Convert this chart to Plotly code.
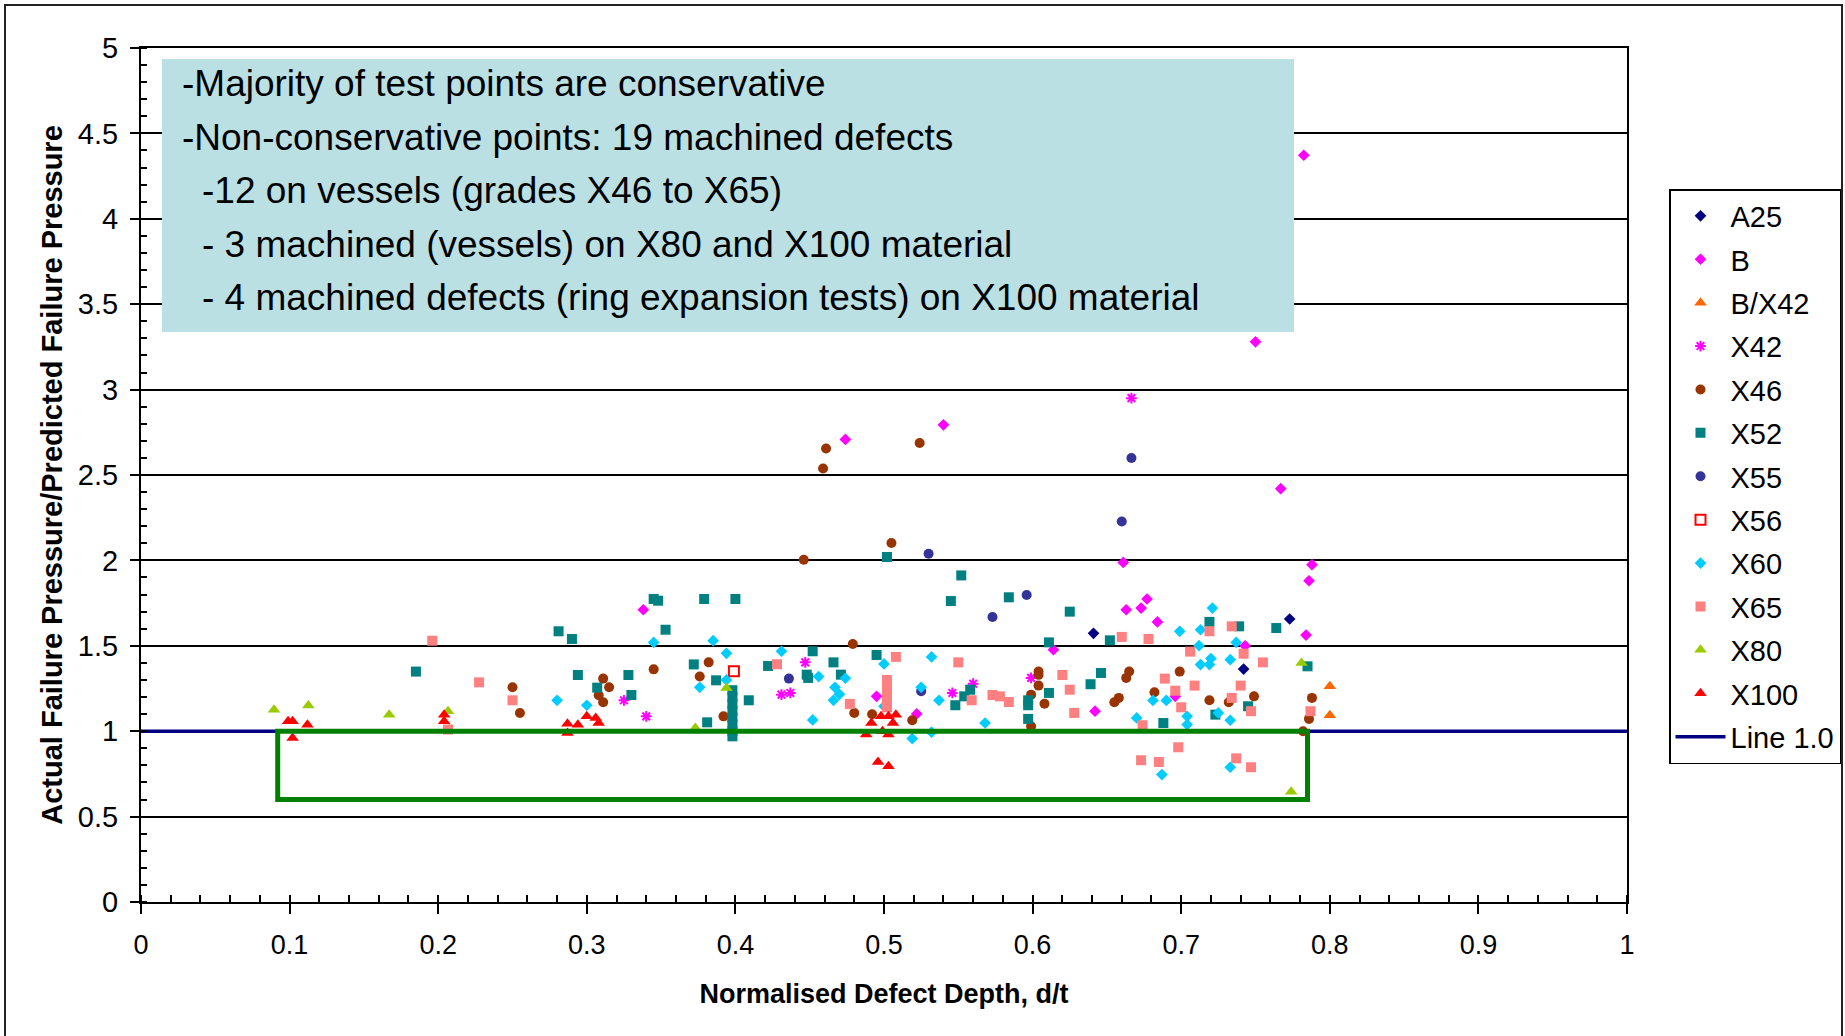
import plotly.graph_objects as go

# ---- Test data: normalised defect depth (d/t) vs. actual/predicted failure pressure ----
a25_x = [0.641, 0.773, 0.742]
a25_y = [1.573, 1.657, 1.364]

b_x = [0.7825, 0.750, 0.540, 0.474, 0.767, 0.661, 0.788, 0.786, 0.677, 0.673,
       0.663, 0.684, 0.784, 0.743, 0.614, 0.338, 0.495, 0.522, 0.642, 0.696]
b_y = [4.372, 3.280, 2.794, 2.708, 2.420, 1.988, 1.975, 1.881, 1.774, 1.721,
       1.711, 1.640, 1.563, 1.500, 1.477, 1.711, 1.204, 1.101, 1.117, 1.204]

bx42_x = [0.800, 0.800]
bx42_y = [1.263, 1.093]

x42_x = [0.6665, 0.447, 0.431, 0.437, 0.325, 0.340, 0.546, 0.560, 0.599]
x42_y = [2.950, 1.403, 1.214, 1.224, 1.181, 1.087, 1.224, 1.278, 1.312]

x46_x = [0.461, 0.459, 0.524, 0.505, 0.446, 0.479, 0.382, 0.376, 0.345, 0.311,
         0.315, 0.308, 0.311, 0.392, 0.250, 0.255, 0.480, 0.492, 0.519, 0.604,
         0.604, 0.604, 0.599, 0.608, 0.599, 0.665, 0.663, 0.699, 0.682, 0.658,
         0.655, 0.719, 0.732, 0.749, 0.788, 0.786, 0.782]
x46_y = [2.655, 2.538, 2.687, 2.102, 2.004, 1.511, 1.403, 1.320, 1.362, 1.308,
         1.257, 1.210, 1.169, 1.087, 1.257, 1.107, 1.107, 1.099, 1.064, 1.350,
         1.330, 1.267, 1.214, 1.161, 1.029, 1.350, 1.312, 1.349, 1.228, 1.195,
         1.169, 1.181, 1.169, 1.204, 1.195, 1.072, 1.000]

x52_x = [0.502, 0.552, 0.545, 0.584, 0.625, 0.611, 0.345, 0.348, 0.379, 0.400,
         0.281, 0.290, 0.353, 0.185, 0.452, 0.372, 0.422, 0.294, 0.307, 0.328,
         0.330, 0.387, 0.448, 0.449, 0.409, 0.381,
         0.398, 0.398, 0.398, 0.398, 0.398, 0.398, 0.398, 0.398,
         0.466, 0.495, 0.471, 0.558, 0.554, 0.548, 0.611, 0.597, 0.597, 0.597,
         0.639, 0.646, 0.764, 0.739, 0.719, 0.652, 0.745, 0.723, 0.688, 0.785]
x52_y = [2.020, 1.912, 1.762, 1.784, 1.700, 1.520, 1.774, 1.764, 1.774, 1.774,
         1.585, 1.540, 1.594, 1.349, 1.468, 1.391, 1.382, 1.329, 1.255, 1.329,
         1.212, 1.298, 1.331, 1.312, 1.181, 1.052,
         1.240, 1.200, 1.160, 1.120, 1.080, 1.040, 1.000, 0.970,
         1.403, 1.446, 1.331, 1.243, 1.204, 1.152, 1.224, 1.181, 1.152, 1.072,
         1.275, 1.341, 1.604, 1.614, 1.640, 1.532, 1.146, 1.097, 1.048, 1.380]

x55_x = [0.6665, 0.660, 0.530, 0.596, 0.573, 0.436, 0.525]
x55_y = [2.600, 2.228, 2.039, 1.797, 1.669, 1.308, 1.234]

x56_x = [0.399]
x56_y = [1.351]

x60_x = [0.345, 0.385, 0.394, 0.431, 0.456, 0.394, 0.376, 0.280, 0.300, 0.452,
         0.500, 0.532, 0.474, 0.467, 0.470, 0.466, 0.500, 0.519, 0.532, 0.525,
         0.537, 0.568, 0.721, 0.713, 0.699, 0.712, 0.737, 0.713, 0.719, 0.720,
         0.733, 0.681, 0.690, 0.704, 0.704, 0.725, 0.733, 0.670, 0.687, 0.733]
x60_y = [1.520, 1.530, 1.456, 1.468, 1.320, 1.300, 1.257, 1.181, 1.152, 1.066,
         1.394, 1.435, 1.310, 1.257, 1.216, 1.181, 1.146, 0.957, 0.994, 1.257,
         1.181, 1.048, 1.721, 1.594, 1.585, 1.501, 1.520, 1.390, 1.390, 1.425,
         1.419, 1.180, 1.180, 1.087, 1.039, 1.107, 1.064, 1.078, 0.746, 0.789]

x65_x = [0.196, 0.2275, 0.250, 0.2066, 0.428, 0.508, 0.550, 0.477,
         0.502, 0.502, 0.502, 0.502, 0.502,
         0.559, 0.573, 0.578, 0.584, 0.620, 0.625, 0.628, 0.734, 0.719, 0.678,
         0.660, 0.742, 0.706, 0.755, 0.689, 0.709, 0.740, 0.696, 0.734, 0.747,
         0.700, 0.674, 0.787, 0.698, 0.673, 0.685, 0.737, 0.747]
x65_y = [1.530, 1.286, 1.181, 1.010, 1.392, 1.435, 1.403, 1.160,
         1.300, 1.260, 1.220, 1.180, 1.140,
         1.181, 1.212, 1.204, 1.171, 1.329, 1.243, 1.107, 1.614, 1.585, 1.540,
         1.552, 1.454, 1.466, 1.403, 1.308, 1.267, 1.267, 1.237, 1.195, 1.117,
         1.140, 1.035, 1.117, 0.906, 0.830, 0.820, 0.841, 0.789]

x80_x = [0.0895, 0.1126, 0.167, 0.2066, 0.394, 0.373, 0.781, 0.774]
x80_y = [1.126, 1.150, 1.097, 1.117, 1.253, 1.019, 1.400, 0.645]

x100_x = [0.099, 0.102, 0.102, 0.112, 0.204, 0.204, 0.287, 0.287, 0.294, 0.300,
          0.306, 0.308, 0.4915, 0.498, 0.503, 0.508, 0.506, 0.488, 0.499, 0.503,
          0.496, 0.503]
x100_y = [1.058, 1.058, 0.960, 1.038, 1.097, 1.058, 1.044, 0.990, 1.038, 1.087,
          1.078, 1.048, 1.048, 1.087, 1.087, 1.097, 1.048, 0.980, 0.999, 0.980,
          0.820, 0.795]

ref_x = [0, 1]
ref_y = [1.0, 1.0]

x_ticks = [0, 0.1, 0.2, 0.3, 0.4, 0.5, 0.6, 0.7, 0.8, 0.9, 1]
x_tick_text = ["0", "0.1", "0.2", "0.3", "0.4", "0.5", "0.6", "0.7", "0.8", "0.9", "1"]
y_ticks = [0, 0.5, 1, 1.5, 2, 2.5, 3, 3.5, 4, 4.5, 5]
y_tick_text = ["0", "0.5", "1", "1.5", "2", "2.5", "3", "3.5", "4", "4.5", "5"]

notes = [
    "-Majority of test points are conservative",
    "-Non-conservative points: 19 machined defects",
    "-12 on vessels (grades X46 to X65)",
    "- 3 machined (vessels) on X80 and X100 material",
    "- 4 machined defects (ring expansion tests) on X100 material",
]
note_indent = [0, 0, 1, 1, 1]

FONT = "Liberation Sans, Arial, sans-serif"

# ---- Page geometry (pixels) ----
W, H = 1845, 1036
ML, MR, MT, MB = 141, 218, 48, 134
PW, PH = W - ML - MR, H - MT - MB


def px(xpix):
    return (xpix - ML) / PW


def py(ypix):
    return (H - MB - ypix) / PH


series = [
    ("A25", a25_x, a25_y, dict(symbol="diamond", size=9, color="#000080")),
    ("B", b_x, b_y, dict(symbol="diamond", size=9, color="#FF00FF")),
    ("B/X42", bx42_x, bx42_y, dict(symbol="triangle-up", size=11, color="#FF6600")),
    ("X42", x42_x, x42_y, dict(symbol="asterisk-open", size=9, color="#FF00FF",
                               line=dict(color="#FF00FF", width=2))),
    ("X46", x46_x, x46_y, dict(symbol="circle", size=10, color="#993300")),
    ("X52", x52_x, x52_y, dict(symbol="square", size=10, color="#008080")),
    ("X55", x55_x, x55_y, dict(symbol="circle", size=10, color="#333399")),
    ("X56", x56_x, x56_y, dict(symbol="square-open", size=10, color="#FF0000",
                               line=dict(color="#FF0000", width=2))),
    ("X60", x60_x, x60_y, dict(symbol="diamond", size=9, color="#00CCFF")),
    ("X65", x65_x, x65_y, dict(symbol="square", size=10, color="#FF8080")),
    ("X80", x80_x, x80_y, dict(symbol="triangle-up", size=11, color="#99CC00")),
    ("X100", x100_x, x100_y, dict(symbol="triangle-up", size=11, color="#FF0000")),
]

fig = go.Figure()

# Reference line at ratio 1.0 drawn first so the markers sit on top
fig.add_trace(go.Scatter(
    x=ref_x, y=ref_y, mode="lines", name="Line 1.0",
    line=dict(color="#000080", width=3.5), legendrank=2000, legendgroup="line",
))

for i, (name, xs, ys, mk) in enumerate(series):
    fig.add_trace(go.Scatter(
        x=xs, y=ys, mode="markers", name=name, marker=mk,
        legendrank=100 + i, legendgroup=name,
    ))

shapes = [
    # note box
    dict(type="rect", xref="paper", yref="paper",
         x0=px(162), x1=px(1294), y0=py(332), y1=py(59),
         fillcolor="#BBE0E3", line=dict(width=0), layer="above"),
    # region of non-conservative predictions
    dict(type="rect", xref="x", yref="y", x0=0.092, x1=0.785, y0=0.6, y1=1.0,
         line=dict(color="#008000", width=5), fillcolor="rgba(0,0,0,0)", layer="above"),
    # outer frame
    dict(type="rect", xref="paper", yref="paper",
         x0=px(5), x1=px(1842), y0=py(1045), y1=py(5),
         line=dict(color="#222222", width=2), fillcolor="rgba(0,0,0,0)", layer="below"),
]

note_y = [83.5, 137.7, 190.6, 244.7, 297.7]
annotations = []
for txt, ind, ypix in zip(notes, note_indent, note_y):
    annotations.append(dict(
        text=txt, xref="paper", yref="paper", x=px(200 if ind else 180), y=py(ypix),
        xanchor="left", yanchor="middle", showarrow=False,
        font=dict(family=FONT, size=37, color="#000000"),
    ))

fig.update_layout(
    width=W, height=H,
    margin=dict(l=ML, r=MR, t=MT, b=MB, autoexpand=False),
    paper_bgcolor="white", plot_bgcolor="white",
    font=dict(family=FONT, color="#000000"),
    shapes=shapes, annotations=annotations,
    showlegend=True,
    legend=dict(
        x=px(1669), y=py(189), xanchor="left", yanchor="top",
        bgcolor="white", bordercolor="#000000", borderwidth=1.5,
        font=dict(family=FONT, size=29), tracegroupgap=2.7,
        itemwidth=50,
    ),
)

fig.update_xaxes(
    range=[0, 1], tickmode="array", tickvals=x_ticks, ticktext=x_tick_text,
    ticks="outside", ticklen=10, tickwidth=2, tickcolor="#000000",
    minor=dict(ticks="inside", dtick=0.02, tick0=0, ticklen=7, tickwidth=1.5, tickcolor="#000000"),
    showline=True, linecolor="#000000", linewidth=2, mirror=True,
    showgrid=False, zeroline=False, ticklabelstandoff=8,
    tickfont=dict(family=FONT, size=27),
    title=dict(text="<b>Normalised Defect Depth, d/t</b>",
               font=dict(family=FONT, size=27), standoff=25),
)
fig.update_yaxes(
    range=[0, 5], tickmode="array", tickvals=y_ticks, ticktext=y_tick_text,
    ticks="outside", ticklen=9, tickwidth=2, tickcolor="#000000",
    minor=dict(ticks="inside", dtick=0.1, tick0=0, ticklen=6, tickwidth=1.5, tickcolor="#000000"),
    showline=True, linecolor="#000000", linewidth=2, mirror=True,
    showgrid=True, gridcolor="#000000", gridwidth=2, zeroline=False,
    ticklabelstandoff=6,
    tickfont=dict(family=FONT, size=29),
    title=dict(text="<b>Actual Failure Pressure/Predicted Failure Pressure</b>",
               font=dict(family=FONT, size=29), standoff=7),
)

fig.write_html("out.html")
